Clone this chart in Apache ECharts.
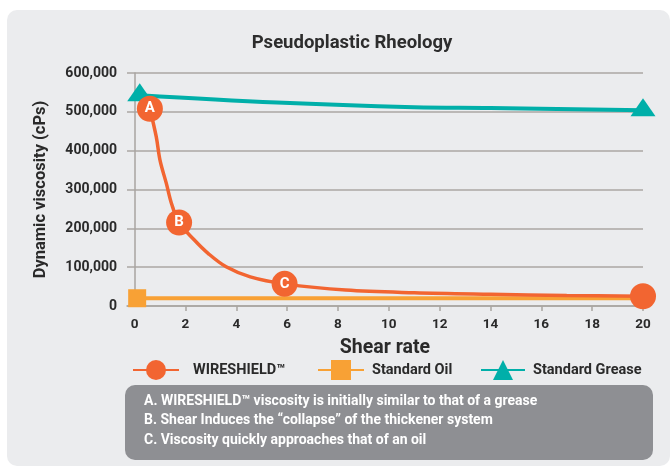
<!DOCTYPE html>
<html>
<head>
<meta charset="utf-8">
<script src="https://cdn.jsdelivr.net/npm/echarts@6/dist/echarts.min.js"></script>
<style>
  * { margin: 0; padding: 0; }
  body { background: #fff; }
</style>
</head>
<body>
<div id="main" style="width: 672px;height: 467px;"></div>
<script>
  // values
  var xTicks = [0, 2, 4, 6, 8, 10, 12, 14, 16, 18, 20];
  var wireX = [0.6, 0.85, 1.0, 1.25, 1.45, 1.75, 2.35, 2.9, 3.6, 4.55, 5.9, 8.3, 11, 14, 17, 20];
  var wireY = [508000, 436000, 375000, 315000, 264000, 215000, 170000, 135000, 101000, 75000, 57000, 41000, 34000, 30000, 27000, 25000];
  var wireMarks = ['A', '', '', '', '', 'B', '', '', '', '', 'C', '', '', '', '', ' '];
  var oilX = [0.1, 20];
  var oilY = [20000, 20000];
  var greaseX = [0.2, 5.6, 11, 14, 20];
  var greaseY = [543000, 524000, 512000, 510000, 504000];
  var notes = [
    'A. WIRESHIELD\u2122 viscosity is initially similar to that of a grease',
    'B. Shear Induces the \u201Ccollapse\u201D of the thickener system',
    'C. Viscosity quickly approaches that of an oil'
  ];

  var font = 'Roboto, "DejaVu Sans", sans-serif';
  var cWire = '#F26531', cOil = '#F8A135', cGrease = '#00AFA9';

  var wireData = wireX.map(function (x, i) {
    var m = wireMarks[i];
    if (!m) return { value: [x, wireY[i]], symbol: 'none' };
    return {
      value: [x, wireY[i]],
      symbol: 'circle',
      symbolSize: 26,
      label: { show: m.trim() !== '', formatter: m }
    };
  });
  var oilData = oilX.map(function (x, i) {
    return i === 0 ? { value: [x, oilY[i]] } : { value: [x, oilY[i]], symbol: 'none' };
  });
  var greaseData = greaseX.map(function (x, i) {
    var end = i === 0 || i === greaseX.length - 1;
    return end ? { value: [x, greaseY[i]] } : { value: [x, greaseY[i]], symbol: 'none' };
  });

  function legendAt(name, left, width, pad) {
    return {
      data: [name], left: left, top: 355, itemWidth: width, itemHeight: 25,
      itemGap: 0, selectedMode: false,
      textStyle: { fontFamily: font, fontWeight: 'bold', fontSize: 14.5, color: '#2a2a2a', padding: [0, 0, 0, pad] }
    };
  }

  var chart = echarts.init(document.getElementById('main'));
  chart.setOption({
    animation: false,
    backgroundColor: '#fff',
    graphic: [
      { type: 'rect', z: -10, shape: { x: 7, y: 10, width: 663, height: 456, r: 10 }, style: { fill: '#EBECEE' } },
      { type: 'rect', z: -5, shape: { x: 125, y: 385, width: 528, height: 75, r: 10 }, style: { fill: '#8E8F93' } },
      { type: 'group', left: 144, top: 394, children: notes.map(function (t, i) {
        return { type: 'text', y: i * 19.5, style: { text: t, fill: '#fff', font: 'bold 14px ' + font } };
      }) }
    ],
    title: {
      text: 'Pseudoplastic Rheology', left: 347, top: 29, textAlign: 'center',
      textStyle: { fontFamily: font, fontWeight: 'bold', fontSize: 18.5, color: '#2d2d2d' }
    },
    legend: [
      legendAt('WIRESHIELD\u2122', 127, 46, 9),
      legendAt('Standard Oil', 312, 46, 3),
      legendAt('Standard Grease', 475, 44, 3)
    ],
    grid: { left: 127, right: 29, top: 73, bottom: 161 },
    xAxis: {
      type: 'value', min: -0.3, max: 20,
      name: 'Shear rate', nameLocation: 'middle', nameGap: 32,
      nameTextStyle: { fontFamily: font, fontWeight: 'bold', fontSize: 19.5, color: '#2a2a2a' },
      axisLine: { lineStyle: { color: '#A9A5A1', width: 1.5 } },
      axisTick: { show: true, length: 5, customValues: xTicks.slice(1), lineStyle: { color: '#A9A5A1', width: 1.5 } },
      axisLabel: { customValues: xTicks, margin: 12, fontFamily: font, fontWeight: 'bold', fontSize: 13.5, color: '#2a2a2a' },
      splitLine: { show: false }
    },
    yAxis: {
      type: 'value', min: 0, max: 600000, interval: 100000,
      name: 'Dynamic viscosity (cPs)', nameLocation: 'middle', nameGap: 78,
      nameTextStyle: { fontFamily: font, fontWeight: 'bold', fontSize: 16.5, color: '#2a2a2a' },
      axisLine: { show: true, lineStyle: { color: '#A9A5A1', width: 1.5 } },
      axisTick: { show: false },
      axisLabel: {
        margin: 10, fontFamily: font, fontWeight: 'bold', fontSize: 14, color: '#2a2a2a',
        formatter: function (v) { return v.toLocaleString('en-US'); }
      },
      splitLine: { lineStyle: { color: '#ABA7A3', width: 1.5 } }
    },
    series: [
      {
        name: 'Standard Oil', type: 'line', data: oilData, z: 2,
        symbol: 'rect', symbolSize: 18, showAllSymbol: true,
        lineStyle: { color: cOil, width: 4 }, itemStyle: { color: cOil }
      },
      {
        name: 'Standard Grease', type: 'line', data: greaseData, smooth: 0.4, z: 3,
        symbol: 'triangle', symbolSize: [25, 18], symbolOffset: [0, -3], showAllSymbol: true,
        lineStyle: { color: cGrease, width: 4 }, itemStyle: { color: cGrease }
      },
      {
        name: 'WIRESHIELD\u2122', type: 'line', data: wireData, smooth: 0.35, z: 4,
        symbol: 'circle', symbolSize: 26, showAllSymbol: true,
        lineStyle: { color: cWire, width: 3.5 }, itemStyle: { color: cWire },
        label: { position: 'inside', color: '#fff', fontFamily: font, fontWeight: 'bold', fontSize: 15 }
      }
    ]
  });
</script>
</body>
</html>
